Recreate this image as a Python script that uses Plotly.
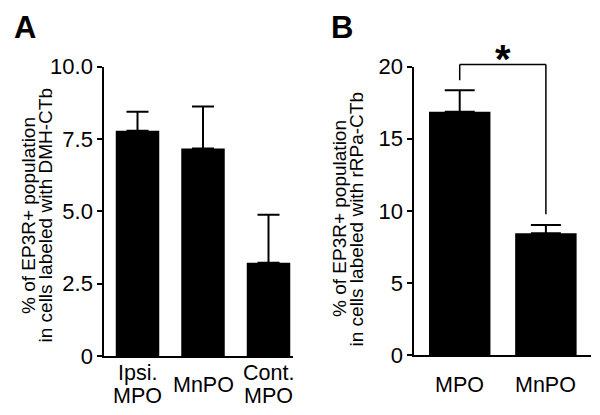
import plotly.graph_objects as go

# ---- data ----
cats_a = ["Ipsi.\nMPO", "MnPO", "Cont.\nMPO"]
means_a = [7.79, 7.17, 3.22]
sem_a = [0.65, 1.45, 1.66]
ticks_a = [0, 2.5, 5.0, 7.5, 10.0]
ticklabels_a = ["0", "2.5", "5.0", "7.5", "10.0"]

cats_b = ["MPO", "MnPO"]
means_b = [16.87, 8.44]
sem_b = [1.49, 0.58]
ticks_b = [0, 5, 10, 15, 20]
ticklabels_b = ["0", "5", "10", "15", "20"]

ytitle_a = ["% of EP3R+ population", "in cells labeled with DMH-CTb"]
ytitle_b = ["% of EP3R+ population", "in cells labeled with rRPa-CTb"]
sig_label = "*"

# the page body has an 8px margin, so the figure is drawn 8px smaller
# and all target pixel positions are offset by it
OFF = 8
W, H = 600 - OFF, 415 - OFF
FONT = "Liberation Sans, Arial, sans-serif"


def px(p):
    return (p - OFF) / W


def py(p):
    return 1 - (p - OFF) / H


fig = go.Figure()

fig.add_trace(go.Bar(
    x=list(range(len(cats_a))), y=means_a, width=0.664,
    marker=dict(color="black", line=dict(width=0)),
    error_y=dict(type="data", symmetric=False, array=sem_a,
                 arrayminus=[0] * len(sem_a), color="black",
                 thickness=2, width=11),
    xaxis="x", yaxis="y", showlegend=False,
))
fig.add_trace(go.Bar(
    x=list(range(len(cats_b))), y=means_b, width=0.713,
    marker=dict(color="black", line=dict(width=0)),
    error_y=dict(type="data", symmetric=False, array=sem_b,
                 arrayminus=[0] * len(sem_b), color="black",
                 thickness=2, width=15),
    xaxis="x2", yaxis="y2", showlegend=False,
))

axis_common = dict(showgrid=False, zeroline=False, showline=True,
                   linecolor="black", linewidth=2, automargin=False)

# panel B scale: 0 at pixel 355, 20 at pixel 66.7; an invisible taller axis
# with the same scale carries the significance bracket above the axis top
b_bottom_px, b_top_px, bracket_top_px = 355, 66.7, 30
y3_max = ticks_b[-1] * (b_bottom_px - bracket_top_px) / (b_bottom_px - b_top_px)

fig.update_layout(
    template="none",
    width=W, height=H,
    margin=dict(l=0, r=0, t=0, b=0, autoexpand=False),
    paper_bgcolor="white", plot_bgcolor="rgba(0,0,0,0)",
    font=dict(family=FONT, color="black", size=22),
    xaxis=dict(domain=[px(104.3), px(293)], range=[-0.507, 2.374],
               showticklabels=False, ticks="", anchor="y", **axis_common),
    yaxis=dict(domain=[py(356), py(66.7)], range=[0, 10], anchor="x",
               tickmode="array", tickvals=ticks_a, ticktext=ticklabels_a,
               ticks="outside", ticklen=5, tickwidth=2, tickcolor="black",
               tickfont=dict(size=22, family=FONT), **axis_common),
    xaxis2=dict(domain=[px(414.3), px(590.7)], range=[-0.527, 1.52],
                showticklabels=False, ticks="", anchor="y2", **axis_common),
    yaxis2=dict(domain=[py(b_bottom_px), py(b_top_px)], range=[0, ticks_b[-1]],
                anchor="x2",
                tickmode="array", tickvals=ticks_b, ticktext=ticklabels_b,
                ticks="outside", ticklen=5, tickwidth=2, tickcolor="black",
                tickfont=dict(size=22, family=FONT), **axis_common),
    yaxis3=dict(domain=[py(b_bottom_px), py(bracket_top_px)], range=[0, y3_max],
                anchor="x2", visible=False, showgrid=False, zeroline=False,
                automargin=False),
)

ann = []
# category labels (one annotation per line for tight spacing)
line_gap = 23
for xref, cats, base in (("x", cats_a, 384.7), ("x2", cats_b, 384.7)):
    for i, c in enumerate(cats):
        lines = c.split("\n")
        n = len(lines)
        for j, ln in enumerate(lines):
            ycen = base + (j - (n - 1) / 2) * line_gap
            ann.append(dict(x=i, y=py(ycen), xref=xref, yref="paper",
                            text=ln, showarrow=False, xanchor="center",
                            yanchor="middle",
                            font=dict(size=21.5, family=FONT)))

# rotated y-axis titles
for lines, xs, ycen in ((ytitle_a, (28, 44.5), 216), (ytitle_b, (339, 355.5), 219)):
    for ln, xc in zip(lines, xs):
        ann.append(dict(x=px(xc), y=py(ycen), xref="paper", yref="paper",
                        text=ln, textangle=-90, showarrow=False,
                        xanchor="center", yanchor="middle",
                        font=dict(size=19, family=FONT)))

# panel letters
for letter, xc, yc in (("A", 25, 27), ("B", 342, 27)):
    ann.append(dict(x=px(xc), y=py(yc), xref="paper", yref="paper",
                    text="<b>%s</b>" % letter, showarrow=False,
                    xanchor="center", yanchor="middle",
                    font=dict(size=31, family=FONT)))

# significance bracket in panel B
top = ticks_b[-1] + 0.15
left_bottom = means_b[0] + sem_b[0] + 0.7
right_bottom = means_b[1] + sem_b[1] + 0.75
bl = dict(color="black", width=1.5)
shapes = [
    dict(type="line", xref="x2", yref="y3", x0=0, x1=0, y0=left_bottom, y1=top, line=bl),
    dict(type="line", xref="x2", yref="y3", x0=0, x1=1, y0=top, y1=top, line=bl),
    dict(type="line", xref="x2", yref="y3", x0=1, x1=1, y0=right_bottom, y1=top, line=bl),
]
ann.append(dict(x=0.5, y=top, xref="x2", yref="y3", text="<b>%s</b>" % sig_label,
                showarrow=False, xanchor="center", yanchor="middle", yshift=6,
                font=dict(size=40, family=FONT)))

fig.update_layout(annotations=ann, shapes=shapes)

fig.write_html("out.html")
